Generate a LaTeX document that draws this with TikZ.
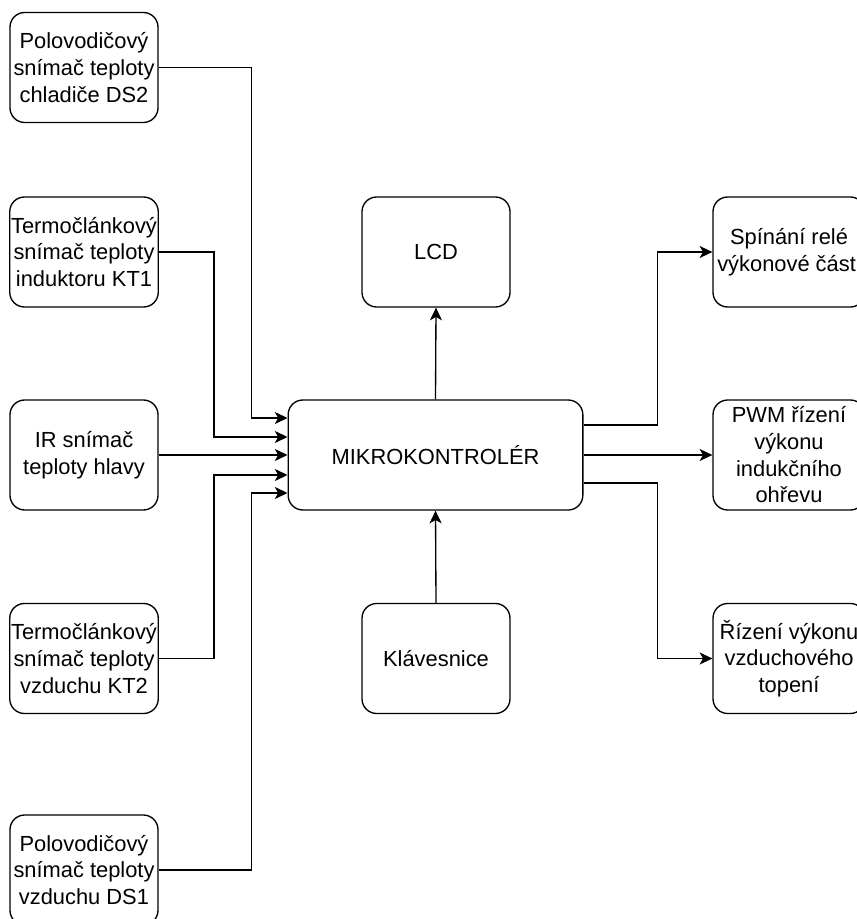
\documentclass[tikz,border=0pt]{standalone}
\usepackage{fontspec}
\setmainfont{Liberation Sans}
\usetikzlibrary{arrows.meta,calc}

\begin{document}
\begin{tikzpicture}[x=0.75pt,y=-0.75pt,
        blok/.style={draw, line width=1pt, rounded corners=11pt, minimum width=111pt,
            minimum height=82.5pt, inner sep=1pt, align=center,
            font=\fontsize{16.4}{20}\selectfont},
        conn/.style={line width=1pt, -{Stealth[length=9.5pt,width=9pt,inset=2.5pt]}}]
    % Page size
    \useasboundingbox (0,0) rectangle (856,919);

    % Sensors on the left
    \node[blok] (ds2) at (84,67.5) {Polovodičový\\snímač teploty\\chladiče DS2};
    \node[blok] (kt1) at (84,252) {Termočlánkový\\snímač teploty\\induktoru KT1};
    \node[blok] (ir) at (84,455) {IR snímač\\teploty hlavy};
    \node[blok] (kt2) at (84,658.5) {Termočlánkový\\snímač teploty\\vzduchu KT2};
    \node[blok] (ds1) at (84,870) {Polovodičový\\snímač teploty\\vzduchu DS1};

    % Middle column
    \node[blok, minimum width=221pt] (mcu) at (435.5,455) {MIKROKONTROLÉR};
    \node[blok] (lcd) at (436,252) {LCD};
    \node[blok] (klav) at (436,658.5) {Klávesnice};

    % Outputs on the right
    \node[blok, minimum width=114pt] (spin) at (789,252) {Spínání relé\\výkonové části};
    \node[blok, minimum width=114pt] (pwm) at (789,455) {PWM řízení\\výkonu\\indukčního\\ohřevu};
    \node[blok, minimum width=114pt] (rizeni) at (789,658.5) {Řízení výkonu\\vzduchového\\topení};

    % Inputs into the MCU
    \draw[conn] (ds2.east) -- ++(93,0) |- ($(mcu.west)+(0,-37)$);
    \draw[conn] (kt1.east) -- ++(55,0) |- ($(mcu.west)+(0,-18)$);
    \draw[conn] (ir.east) -- (mcu.west);
    \draw[conn] (kt2.east) -- ++(55,0) |- ($(mcu.west)+(0,20)$);
    \draw[conn] (ds1.east) -- ++(93,0) |- ($(mcu.west)+(0,38)$);

    % Display and keyboard
    \draw[conn] (mcu.north) -- (lcd.south);
    \draw[conn] (klav.north) -- (mcu.south);

    % Outputs of the MCU
    \draw[conn] ($(mcu.east)+(0,-30)$) -- ++(74,0) |- (spin.west);
    \draw[conn] (mcu.east) -- (pwm.west);
    \draw[conn] ($(mcu.east)+(0,28)$) -- ++(74,0) |- (rizeni.west);
\end{tikzpicture}
\end{document}
